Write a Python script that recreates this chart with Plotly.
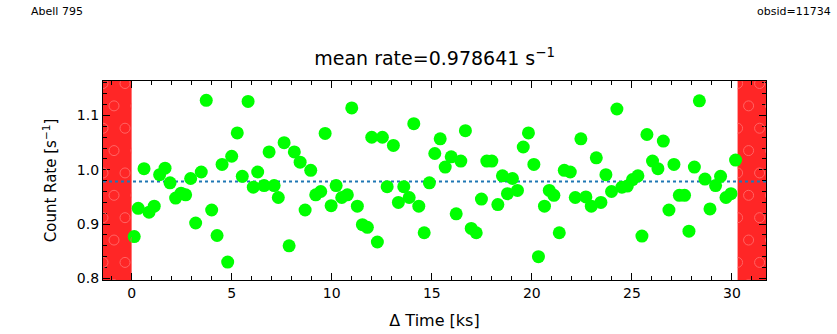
import numpy as np
import plotly.graph_objects as go

# ---- data ----
time_ks = [0.13, 0.33, 0.62, 0.87, 1.13, 1.40, 1.67, 1.92, 2.20, 2.47, 2.70, 2.95, 3.20, 3.48, 3.73,
           4.00, 4.27, 4.52, 4.80, 5.00, 5.28, 5.53, 5.82, 6.08, 6.30, 6.62, 6.87, 7.12, 7.33, 7.62,
           7.87, 8.13, 8.42, 8.67, 8.95, 9.20, 9.45, 9.67, 9.97, 10.22, 10.50, 10.78, 11.00, 11.28,
           11.53, 11.78, 12.00, 12.28, 12.53, 12.77, 13.08, 13.33, 13.60, 13.87, 14.10, 14.35, 14.62,
           14.88, 15.15, 15.42, 15.67, 15.97, 16.22, 16.45, 16.68, 16.97, 17.22, 17.48, 17.75, 18.00,
           18.30, 18.53, 18.78, 19.03, 19.28, 19.57, 19.83, 20.10, 20.33, 20.63, 20.87, 21.10, 21.37,
           21.62, 21.92, 22.17, 22.45, 22.70, 22.97, 23.22, 23.45, 23.70, 23.98, 24.25, 24.50, 24.77,
           25.03, 25.30, 25.50, 25.75, 26.03, 26.30, 26.57, 26.85, 27.10, 27.37, 27.63, 27.85, 28.12,
           28.37, 28.65, 28.90, 29.18, 29.43, 29.70, 29.95, 30.18]
count_rate = [0.877, 0.929, 1.002, 0.922, 0.933, 0.991, 1.003, 0.976, 0.948, 0.957, 0.954, 0.984, 0.902,
              0.996, 1.128, 0.926, 0.879, 1.010, 0.830, 1.025, 1.068, 0.988, 1.126, 0.968, 0.996, 0.971,
              1.033, 0.971, 0.949, 1.050, 0.860, 1.033, 1.014, 0.926, 0.999, 0.954, 0.960, 1.067, 0.934,
              0.971, 0.949, 0.954, 1.114, 0.933, 0.899, 0.894, 1.060, 0.867, 1.060, 0.969, 1.045, 0.940,
              0.969, 0.949, 1.085, 0.933, 0.884, 0.976, 1.030, 1.057, 1.005, 1.024, 0.919, 1.016, 1.072,
              0.892, 0.884, 0.946, 1.016, 1.016, 0.936, 0.989, 0.956, 0.984, 0.962, 1.042, 1.068, 1.010,
              0.840, 0.933, 0.962, 0.953, 0.884, 0.999, 0.996, 0.949, 1.057, 0.950, 0.933, 1.022, 0.940,
              0.991, 0.960, 1.112, 0.968, 0.970, 0.982, 0.989, 0.878, 1.065, 1.016, 1.002, 1.053, 0.926,
              1.010, 0.953, 0.953, 0.887, 1.005, 1.127, 0.983, 0.928, 0.971, 0.988, 0.949, 0.956, 1.018]
mean_rate = 0.978641
bad_intervals = [(-1.6, 0.0), (30.28, 32.0)]   # flagged time ranges (ks)
x_range = [-1.43, 31.7]
y_range = [0.797, 1.1636]
x_ticks = [0, 5, 10, 15, 20, 25, 30]
y_ticks = [0.8, 0.9, 1.0, 1.1]
y_tick_text = ["0.8", "0.9", "1.0", "1.1"]

FONT = "DejaVu Sans"
fig = go.Figure()

# bad-interval bands; hatch lives in its own hidden overlay subplot so it is clipped to the band
span = x_range[1] - x_range[0]
for i, (a, b) in enumerate(bad_intervals):
    a_c, b_c = max(a, x_range[0]), min(b, x_range[1])
    dom = [(a_c - x_range[0]) / span, (b_c - x_range[0]) / span]
    n = i + 2
    fig.update_layout(**{
        "xaxis%d" % n: dict(domain=dom, range=[a_c, b_c], visible=False, showline=False,
                            fixedrange=True, anchor="y%d" % n),
        "yaxis%d" % n: dict(domain=[0, 1], range=y_range, visible=False, showline=False,
                            fixedrange=True, anchor="x%d" % n),
    })
    fig.add_shape(type="rect", xref="x", yref="paper", x0=a, x1=b, y0=0, y1=1,
                  fillcolor="rgb(255,38,38)", line_width=0, layer="below")
    hx, hy = [], []
    ys = np.arange(y_range[0] - 0.05, y_range[1] + 0.05, 0.0412)
    for r, yy in enumerate(ys):
        off = 0.0 if r % 2 == 0 else 0.55
        for xx in np.arange(a_c - 1.1 + off, b_c + 1.1, 1.1):
            hx.append(xx)
            hy.append(yy)
    fig.add_trace(go.Scatter(x=hx, y=hy, xaxis="x%d" % n, yaxis="y%d" % n, mode="markers",
                             hoverinfo="skip",
                             marker=dict(symbol="circle-open", size=10,
                                         line=dict(color="rgba(255,100,100,1)", width=1),
                                         color="rgba(255,100,100,1)"),
                             showlegend=False, cliponaxis=True))

# mean line
fig.add_trace(go.Scatter(x=x_range, y=[mean_rate, mean_rate], mode="lines",
                         line=dict(color="#1f77b4", width=2, dash="dot"), showlegend=False))
# data points
fig.add_trace(go.Scatter(x=time_ks, y=count_rate, mode="markers",
                         marker=dict(color="#00ff00", size=13, line=dict(width=0)),
                         showlegend=False))

axis_common = dict(showgrid=False, zeroline=False, showline=True, linecolor="black", linewidth=1.3,
                   mirror="allticks", ticks="inside", ticklen=7, tickwidth=1.2, tickcolor="black",
                   automargin=False,
                   tickfont=dict(family=FONT, size=14, color="black"))
fig.update_layout(
    width=837, height=334, margin=dict(l=103, r=71, t=81, b=54),
    paper_bgcolor="white", plot_bgcolor="rgba(0,0,0,0)",
    xaxis=dict(range=x_range, tickvals=x_ticks, domain=[0, 1], anchor="y",
               minor=dict(dtick=1, tick0=0, ticks="inside", ticklen=4, tickcolor="black", tickwidth=1),
               title=dict(text="Δ Time [ks]", font=dict(family=FONT, size=16, color="black"), standoff=14),
               **axis_common),
    yaxis=dict(range=y_range, tickvals=y_ticks, ticktext=y_tick_text, domain=[0, 1], anchor="x",
               minor=dict(dtick=0.02, tick0=0.8, ticks="inside", ticklen=4, tickcolor="black", tickwidth=1),
               title=dict(text="Count Rate [s<sup>−1</sup>]", font=dict(family=FONT, size=15, color="black"),
                          standoff=16),
               **axis_common),
    title=dict(text="mean rate=0.978641 s<sup>−1</sup>", x=0.5192, xanchor="center", y=0.825, yanchor="middle",
               font=dict(family=FONT, size=19, color="black")),
    annotations=[
        dict(text="Abell 795", xref="paper", yref="paper", x=-0.112, y=1.35, xanchor="left", yanchor="middle",
             showarrow=False, font=dict(family=FONT, size=11, color="black")),
        dict(text="obsid=11734", xref="paper", yref="paper", x=1.0, y=1.35, xanchor="right", yanchor="middle",
             xshift=67, showarrow=False, font=dict(family=FONT, size=11, color="black")),
    ],
)
fig.write_html("out.html")
